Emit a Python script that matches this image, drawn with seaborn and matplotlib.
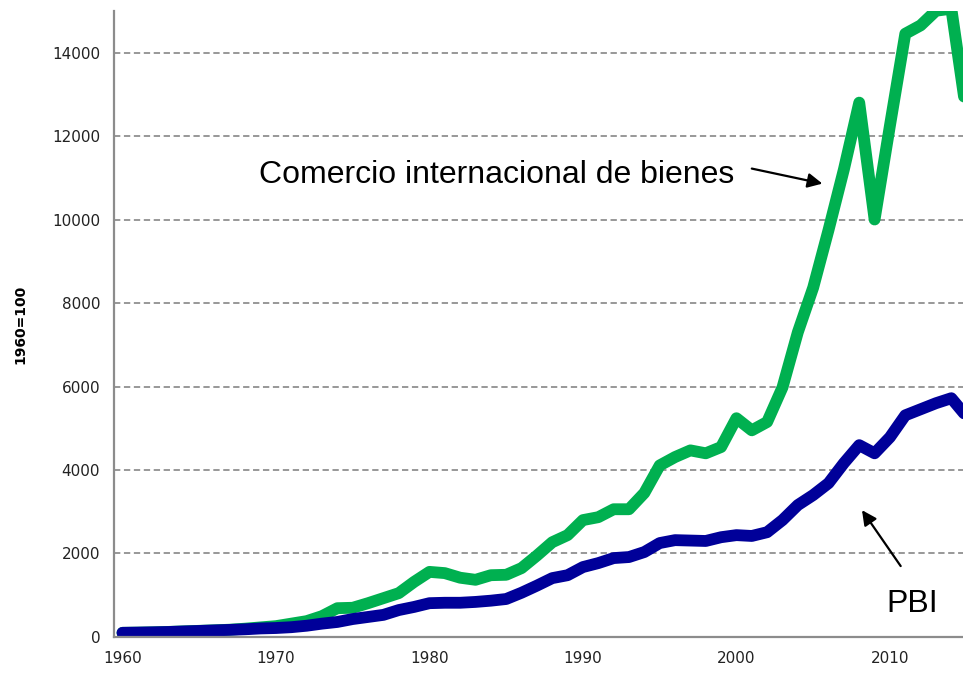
import numpy as np
import pandas as pd
import seaborn as sns
import matplotlib.pyplot as plt

# Index 1960=100
years = list(range(1960, 2016))
comercio = [100, 105, 112, 122, 135, 148, 160, 175, 200, 230,
            260, 320, 380, 500, 690, 700, 810, 930, 1050, 1320,
            1560, 1530, 1420, 1370, 1480, 1490, 1650, 1950, 2270, 2440,
            2800, 2870, 3060, 3060, 3450, 4110, 4310, 4470, 4400, 4550,
            5240, 4950, 5150, 5980, 7300, 8370, 9750, 11200, 12800, 10000,
            12250, 14450, 14650, 15000, 15050, 12500]
pbi = [100, 105, 112, 120, 133, 145, 158, 170, 185, 205,
       215, 235, 270, 320, 360, 430, 480, 530, 645, 720,
       810, 820, 820, 840, 870, 910, 1060, 1230, 1410, 1480,
       1675, 1770, 1890, 1915, 2035, 2250, 2320, 2310, 2300, 2390,
       2440, 2420, 2510, 2800, 3160, 3400, 3685, 4165, 4595, 4400,
       4785, 5310, 5455, 5600, 5720, 5280]

green = '#00B050'
navy = '#000099'

df = pd.DataFrame({'Año': years, 'Comercio': comercio, 'PBI': pbi})

sns.set_style('white')
plt.rcParams['font.family'] = ['DejaVu Sans']

fig = plt.figure(figsize=(9.63, 6.73), dpi=100)
ax = fig.add_axes([0.1184, 0.0535, 0.8816, 0.9305])

sns.lineplot(data=df, x='Año', y='Comercio', color=green, lw=8.5, ax=ax,
             solid_capstyle='round', solid_joinstyle='round')
sns.lineplot(data=df, x='Año', y='PBI', color=navy, lw=8.5, ax=ax,
             solid_capstyle='round', solid_joinstyle='round')

ax.set_xlim(1959.45, 2014.76)
ax.set_ylim(0, 15000)
ax.set_xticks(range(1960, 2011, 10))
ax.set_yticks(range(0, 14001, 2000))
ax.yaxis.grid(True, color='#909090', linestyle=(0, (3.5, 2)), lw=1.3)
ax.set_axisbelow(True)
for s in ['top', 'right']:
    ax.spines[s].set_visible(False)
for s in ['left', 'bottom']:
    ax.spines[s].set_color('#8c8c8c')
    ax.spines[s].set_linewidth(1.6)
ax.tick_params(axis='both', length=0, labelsize=11, colors='#222222', pad=10)
ax.set_xlabel('')
ax.set_ylabel('1960=100', fontsize=10, fontweight='bold', color='black',
              labelpad=18)

txt_font = ['Liberation Sans', 'DejaVu Sans']
ax.text(1968.9, 10885, 'Comercio internacional de bienes', fontsize=23,
        family=txt_font, color='black', ha='left', va='baseline')
ax.text(2011.45, 598, 'PBI', fontsize=23, family=txt_font, color='black',
        ha='center', va='baseline')

arrow = dict(arrowstyle='-|>', color='black', lw=1.6, mutation_scale=22,
             shrinkA=0, shrinkB=0)
ax.annotate('', xy=(2005.6, 10860), xytext=(2001.0, 11220), arrowprops=arrow)
ax.annotate('', xy=(2008.18, 3038), xytext=(2010.7, 1699), arrowprops=arrow)

plt.savefig('out.png', dpi=100)
plt.close()
